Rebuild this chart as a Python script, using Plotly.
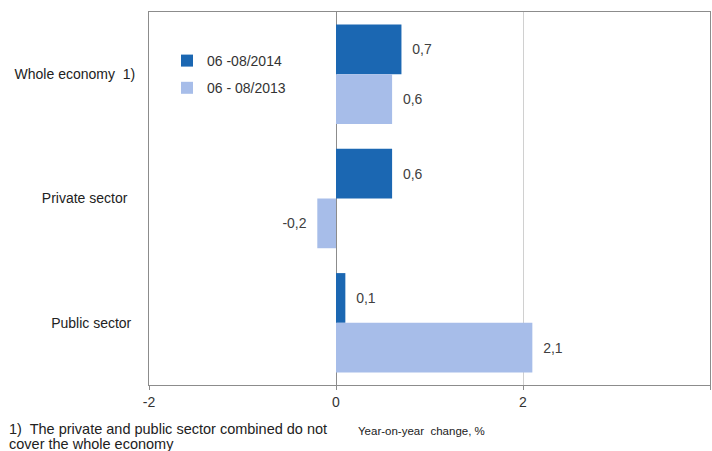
import plotly.graph_objects as go

categories = ["Whole economy\u00a0\u00a01)", "Private sector\u00a0\u00a0", "Public sector\u00a0"]
series_2014_name = "06 -08/2014"
series_2013_name = "06 - 08/2013"
values_2014 = [0.7, 0.6, 0.1]
values_2013 = [0.6, -0.2, 2.1]
x_ticks = [-2, 0, 2, 4]

def fmt(v):
    s = f"{v:.1f}".replace(".", ",")
    pad = "\u00a0\u00a0"
    return s + pad if v < 0 else pad + s

W, H = 712, 451
L, R, T, B = 149, 2, 12, 66
pw = W - L - R
ph = H - T - B

def px_x(p):
    return (p - L) / pw

def px_y(p):
    return (H - B - p) / ph

font_family = "Liberation Sans, Arial, sans-serif"

fig = go.Figure()
fig.add_trace(go.Bar(
    y=categories, x=values_2014, orientation="h", name=series_2014_name,
    marker=dict(color="#1b67b2", line=dict(width=0)),
    text=[fmt(v) for v in values_2014], textposition="outside",
    textfont=dict(size=14, color="#404040", family=font_family),
    cliponaxis=False, legendgroup="a",
))
fig.add_trace(go.Bar(
    y=categories, x=values_2013, orientation="h", name=series_2013_name,
    marker=dict(color="#a7bde9", line=dict(width=0)),
    text=[fmt(v) for v in values_2013], textposition="outside",
    textfont=dict(size=14, color="#404040", family=font_family),
    cliponaxis=False, legendgroup="b",
))

fig.update_layout(
    width=W, height=H,
    margin=dict(l=L, r=R, t=T, b=B, autoexpand=False),
    paper_bgcolor="white", plot_bgcolor="white",
    font=dict(family=font_family, size=14, color="#222222"),
    barmode="group", bargap=0.2, bargroupgap=0,
    showlegend=True,
    legend=dict(
        x=px_x(167), y=px_y(45), xanchor="left", yanchor="top",
        bgcolor="rgba(0,0,0,0)", font=dict(size=14, color="#333333"),
        traceorder="grouped", tracegroupgap=6, itemwidth=30,
    ),
    xaxis=dict(
        range=[-2, 4], tickvals=x_ticks, ticktext=[str(t) for t in x_ticks],
        showgrid=True, gridcolor="#d0d0d0", gridwidth=1,
        zeroline=True, zerolinecolor="#8c8c8c", zerolinewidth=1,
        showline=True, linecolor="#8c8c8c", linewidth=1, mirror=True,
        ticks="outside", ticklen=4, tickcolor="#8c8c8c",
        tickfont=dict(size=14, color="#333333"), automargin=False,
    ),
    yaxis=dict(
        autorange="reversed", showgrid=False, zeroline=False,
        showline=True, linecolor="#8c8c8c", linewidth=1, mirror=True,
        ticks="", ticklabelstandoff=10, automargin=False,
        tickfont=dict(size=14, color="#222222"),
    ),
    annotations=[
        dict(
            text="1)  The private and public sector combined do not",
            xref="paper", yref="paper", x=px_x(7), y=px_y(429),
            xanchor="left", yanchor="middle", align="left", showarrow=False,
            font=dict(size=14.5, color="#222222"),
        ),
        dict(
            text="cover the whole economy",
            xref="paper", yref="paper", x=px_x(7), y=px_y(444),
            xanchor="left", yanchor="middle", align="left", showarrow=False,
            font=dict(size=14.5, color="#222222"),
        ),
        dict(
            text="Year-on-year  change, %",
            xref="paper", yref="paper", x=px_x(356), y=px_y(431),
            xanchor="left", yanchor="middle", align="left", showarrow=False,
            font=dict(size=11.5, color="#222222"),
        ),
    ],
)

fig.write_html("out.html", config={"displayModeBar": False},
               post_script="document.body.style.margin='0';")
